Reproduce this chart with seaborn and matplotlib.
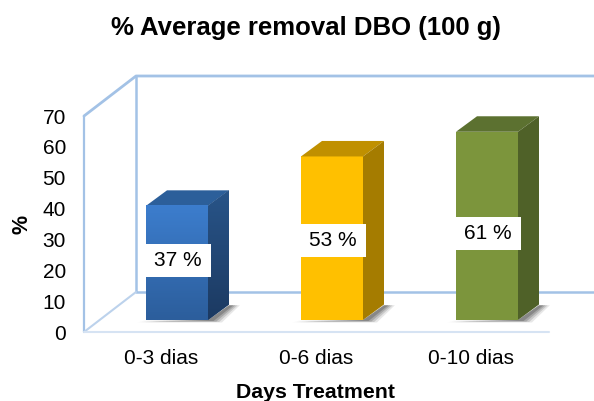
import numpy as np
import matplotlib
matplotlib.use('Agg')
import matplotlib.pyplot as plt
import matplotlib.transforms as mtrans
from matplotlib.patches import Polygon, Rectangle
import seaborn as sns

# data
days = ['0-3 dias', '0-6 dias', '0-10 dias']
removal = [37, 53, 61]
labels = ['37 %', '53 %', '61 %']
label_pos = [23.3, 29.5, 32.0]
yticks = [0, 10, 20, 30, 40, 50, 60, 70]

front = ['#3a7ccb', '#ffc000', '#7c953c']
top = ['#2c5f9a', '#c09000', '#5c7130']
side = ['#234a7a', '#a57c00', '#4f6128']

W, H = 594, 401
sns.set_theme(style='white')
plt.rcParams['font.family'] = ['Liberation Sans', 'DejaVu Sans']

fig = plt.figure(figsize=(W / 100, H / 100), dpi=100)
# front plane of the 3D box, in pixels
ax = fig.add_axes([84 / W, 1 - 332 / H, 465 / W, 216 / H])
sns.barplot(x=days, y=removal, hue=days, palette=front, width=0.4, saturation=1,
            legend=False, ax=ax, zorder=3)
sns.despine(ax=ax, left=True, bottom=True, top=True, right=True)
ax.patch.set_alpha(0)


def shifted(dx, dy):
    return ax.transData + mtrans.ScaledTranslation(dx / 100, dy / 100, fig.dpi_scale_trans)


def px(x, y):
    return np.array([x / W, 1 - y / H])


# box lines
wall = '#a3c2e6'
for pts, c, lw in [
    ([(84, 116), (136, 76), (594, 76)], wall, 2),
    ([(84, 116), (84, 332)], wall, 1.6),
    ([(136, 76), (136, 292), (594, 292)], wall, 1.8),
    ([(84, 332), (136, 292)], '#bcd2ec', 1.5),
    ([(84, 332), (549, 332)], '#d6e3f3', 1.5),
]:
    xs, ys = zip(*[px(*p) for p in pts])
    fig.add_artist(plt.Line2D(xs, ys, color=c, lw=lw, zorder=0))

# depth of the box floor and depth of a bar
off_x, off_y = 15.5, 12
depth_x, depth_y = 21, 15.5
bar_tr = shifted(off_x, off_y)
label_tr = shifted(off_x + 1, 0)
x_unit = 155
y_unit = 216 / 70

for i, bar in enumerate(list(ax.patches)):
    bar.set_transform(bar_tr)
    bar.set_clip_on(False)
    bar.set_linewidth(0)
    x0, x1 = bar.get_x(), bar.get_x() + bar.get_width()
    h = bar.get_height()
    dxd = depth_x / x_unit
    dyd = depth_y / y_unit

    # soft floor shadow, layered so it is darkest next to the bar
    for k, a in zip([1.0, 0.8, 0.6, 0.4], [0.12, 0.18, 0.24, 0.3]):
        ax.add_patch(Polygon([(x0 - 0.06 * k, -0.8 * k), (x1 + 0.09 * k, -0.8 * k),
                              (x1 + dxd + 0.07 * k, dyd * 0.95), (x1 + dxd, dyd * 0.95),
                              (x1, 0)],
                             closed=True, fc='#404040', ec='none', alpha=a,
                             transform=bar_tr, clip_on=False, zorder=2))
    ax.add_patch(Polygon([(x0, h), (x1, h), (x1 + dxd, h + dyd), (x0 + dxd, h + dyd)],
                         closed=True, fc=top[i], ec='none', transform=bar_tr,
                         clip_on=False, zorder=3))
    s = ax.add_patch(Polygon([(x1, 0), (x1 + dxd, dyd), (x1 + dxd, h + dyd), (x1, h)],
                             closed=True, fc=side[i], ec='none', transform=bar_tr,
                             clip_on=False, zorder=3))
    if i == 0:
        # only the blue bar has a visible gradient
        grad = np.linspace(0, 1, 64).reshape(-1, 1)
        cm = matplotlib.colors.LinearSegmentedColormap.from_list('b', ['#3c7dcd', '#2c5e9c'])
        ax.imshow(grad, cmap=cm, aspect='auto', extent=[x0, x1, 0, h], origin='upper',
                  transform=bar_tr, clip_on=False, zorder=3.1)
        cm2 = matplotlib.colors.LinearSegmentedColormap.from_list('s', ['#285488', '#1c3a62'])
        im = ax.imshow(grad, cmap=cm2, aspect='auto', extent=[x1, x1 + dxd, 0, h + dyd],
                       origin='upper', transform=bar_tr, zorder=3.1)
        im.set_clip_path(s)
    xc = x0 + 0.2
    bw, bh = 65 / x_unit, 33 / y_unit
    ax.add_patch(Rectangle((xc - bw / 2, label_pos[i] - bh / 2), bw, bh, fc='white', ec='none',
                           transform=label_tr, clip_on=False, zorder=4))
    ax.text(xc, label_pos[i], labels[i], transform=label_tr, ha='center', va='center',
            fontsize=15, color='black', zorder=5)

ax.set_xlim(-0.5, 2.5)
ax.set_ylim(0, 70)
ax.set_yticks(yticks)
ax.set_yticklabels([str(t) for t in yticks])
ax.tick_params(axis='both', length=0, labelsize=15, colors='black')
ax.tick_params(axis='y', pad=13)
ax.tick_params(axis='x', pad=12.5)

fig.text(306 / W, 1 - 28 / H, '% Average removal DBO (100 g)', ha='center', va='center',
         fontsize=18.5, fontweight='bold', color='black')
fig.text(316 / W, 1 - 393 / H, 'Days Treatment', ha='center', va='center',
         fontsize=15.3, fontweight='bold', color='black')
fig.text(22 / W, 1 - 224 / H, '%', ha='center', va='center', rotation=90,
         fontsize=15.5, fontweight='bold', color='black')

fig.savefig('out.png', dpi=100)
